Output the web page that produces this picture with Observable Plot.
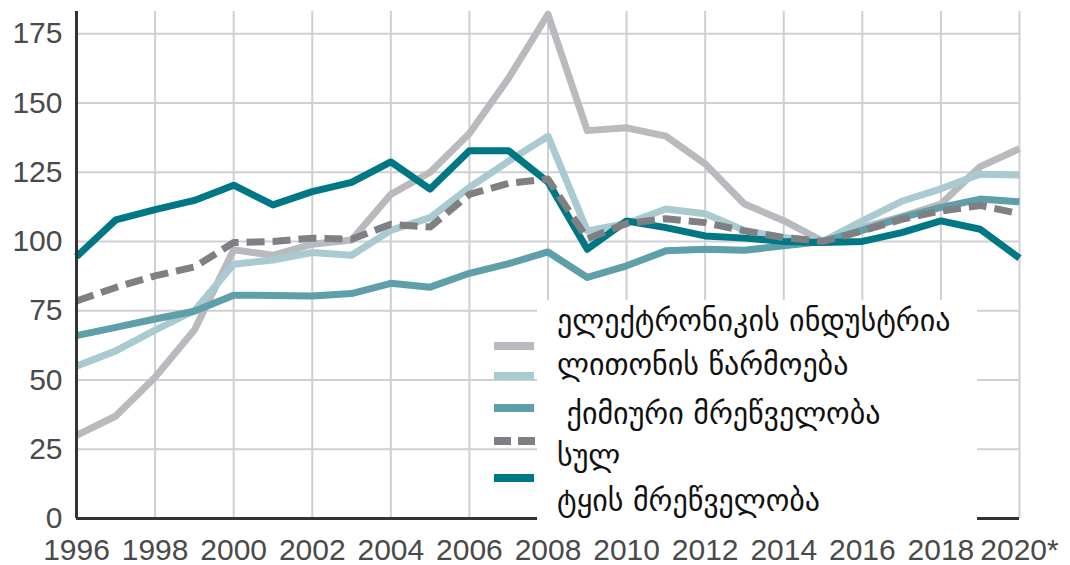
<!DOCTYPE html>
<html>
<head>
<meta charset="utf-8">
<script src="https://cdn.jsdelivr.net/npm/d3@7"></script>
<script src="https://cdn.jsdelivr.net/npm/@observablehq/plot@0.6"></script>
<style>
  html, body { margin: 0; padding: 0; background: #fff; }
  #wrap { position: relative; width: 1070px; height: 565px; }
  #legend { position: absolute; left: 537px; top: 300px; width: 440px; height: 222px; background: #fff; }
  .lt { position: absolute; left: 20px; font-family: "DejaVu Sans", sans-serif; font-size: 30px; color: #111; white-space: pre; line-height: 1; }
  .sw { position: absolute; left: 494px; width: 40px; height: 8px; }
</style>
</head>
<body>
<div id="wrap"></div>
<script>
const years = [1996,1997,1998,1999,2000,2001,2002,2003,2004,2005,2006,2007,2008,2009,2010,2011,2012,2013,2014,2015,2016,2017,2018,2019,2020];
const electronics = [30,37,51,68,97,95,99,100.5,117,125,139,159,182,140,141,138,128,113.5,107.5,100,105,109,113.5,127,133.5];
const metal = [55,60.5,68,75,91.8,93.3,96,95,104,108.6,119.5,129,138,103.8,106.5,111.7,110,104,101.4,100,107.4,114.5,119,124.3,124];
const chemical = [66,69,72,74.8,80.6,80.5,80.3,81.2,84.9,83.5,88.5,92,96.2,87,91.2,96.6,97.2,96.8,98.4,100,104,108.6,112.3,115.3,114.3];
const total = [78.5,83.4,87.6,90.8,99.6,100,101.2,100.8,106.2,105.2,117,121,122.5,101,106.5,108.2,106.8,103.8,101.4,100,103.8,108,111,113,110];
const forest = [94.5,107.8,111.5,114.8,120.3,113.2,118,121.3,128.7,118.9,132.7,132.7,121.5,97.2,107.4,105,102,101.2,100,99.6,100,103.2,107.4,104.4,94];

const seriesNames = ["ელექტრონიკის ინდუსტრია", "ლითონის წარმოება", " ქიმიური მრეწველობა", "სულ", "ტყის მრეწველობა"];
const seriesValues = [electronics, metal, chemical, total, forest];
const seriesColors = ["#b9babd", "#a9cad1", "#5e9fa9", "#7f8083", "#007883"];
const xTicks = [1996,1998,2000,2002,2004,2006,2008,2010,2012,2014,2016,2018,2020];
const yTicks = [0,25,50,75,100,125,150,175];

const rows = seriesValues.map(vals => years.map((y, i) => ({year: y, value: vals[i]})));

const lineMarks = rows.map((data, k) => Plot.line(data, {
  x: "year", y: "value",
  stroke: seriesColors[k],
  strokeWidth: 7,
  strokeLinecap: "butt",
  strokeLinejoin: "round",
  strokeDasharray: k === 3 ? "18,8" : null
}));
// draw order: electronics, metal, chemical, forest, total (dashed on top)
const ordered = [lineMarks[0], lineMarks[1], lineMarks[2], lineMarks[4], lineMarks[3]];

const chart = Plot.plot({
  width: 1070,
  height: 565,
  marginLeft: 76,
  marginRight: 51,
  marginTop: 11,
  marginBottom: 47,
  x: {domain: [1996, 2020]},
  y: {domain: [0, 183]},
  style: {fontFamily: "'Liberation Sans', Arial, sans-serif", fontSize: "30px", color: "#4a4a4a", background: "white", overflow: "visible"},
  marks: [
    Plot.gridX(xTicks, {stroke: "#cfd0d4", strokeWidth: 2, strokeOpacity: 1}),
    Plot.gridY(yTicks.filter(d => d > 0), {stroke: "#cfd0d4", strokeWidth: 2, strokeOpacity: 1}),
    ...ordered,
    Plot.ruleX([1996], {stroke: "#333", strokeWidth: 3}),
    Plot.ruleY([0], {stroke: "#333", strokeWidth: 3}),
    Plot.axisX(xTicks, {label: null, tickSize: 0, tickPadding: 20, fontSize: 30, tickFormat: d => d === 2020 ? "2020*" : String(d), fill: "#4a4a4a"}),
    Plot.axisY(yTicks, {label: null, tickSize: 0, tickPadding: 14, fontSize: 30, fill: "#4a4a4a"})
  ]
});

const wrap = document.getElementById("wrap");
wrap.appendChild(chart);

// legend overlay
const legend = document.createElement("div");
legend.id = "legend";
wrap.appendChild(legend);
const textTops = [6, 50, 99, 141, 186];
seriesNames.forEach((name, k) => {
  const t = document.createElement("div");
  t.className = "lt";
  t.style.top = textTops[k] + "px";
  t.textContent = name;
  legend.appendChild(t);
});
const swatchTops = [342, 372, 404, 437, 474];
seriesColors.forEach((c, k) => {
  if (k === 3) {
    [0, 24].forEach(off => {
      const s = document.createElement("div");
      s.className = "sw";
      s.style.left = (494 + off) + "px";
      s.style.width = "17px";
      s.style.top = swatchTops[k] + "px";
      s.style.background = c;
      wrap.appendChild(s);
    });
  } else {
    const s = document.createElement("div");
    s.className = "sw";
    s.style.top = swatchTops[k] + "px";
    s.style.background = c;
    wrap.appendChild(s);
  }
});
</script>
</body>
</html>
